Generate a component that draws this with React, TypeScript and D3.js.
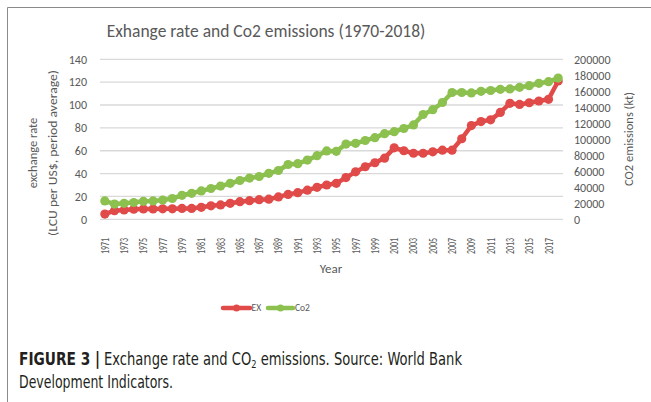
import React from 'react'
import * as d3 from 'd3'

const [W, H] = [651, 402]
const margin = { left: 100, right: 88, top: 59.3, bottom: 182.7 }

const years = d3.range(1971, 2019)
const exRate = [
  4.6, 7.5, 8.2, 8.8, 9.0, 9.0, 9.2, 9.2, 9.5, 9.5,
  10.5, 11.8, 12.6, 14.0, 15.4, 16.3, 17.2, 17.6, 19.6, 21.8,
  23.3, 25.5, 28.0, 30.0, 31.5, 36.5, 41.5, 46.0, 49.5, 53.5,
  62.5, 60.0, 57.8, 57.8, 59.0, 60.5, 60.5, 70.5, 82.0, 85.5,
  87.0, 93.5, 101.5, 100.5, 102.0, 103.5, 105.0, 121.0,
]
const co2 = [
  23000, 19000, 20000, 21000, 22500, 23000, 24000, 26000, 30000, 32500,
  35500, 38500, 41500, 45000, 48500, 51500, 53500, 57500, 61000, 68500,
  69500, 74000, 79500, 85500, 85000, 94000, 95000, 98500, 102000, 107000,
  109500, 113500, 118000, 131000, 137000, 146000, 158500, 158500, 158000, 160000,
  161000, 162500, 163000, 165000, 167000, 170000, 172000, 176500,
]
const leftTicks = d3.range(0, 141, 20)
const rightTicks = d3.range(0, 200001, 20000)

const RED = '#E04B4A'
const GREEN = '#8CC04F'
const TXT = '#595959'
const FONT = 'Carlito, Lato, sans-serif'

export default function App() {
  const x = d3.scalePoint<number>()
    .domain(years)
    .range([margin.left, W - margin.right])
    .padding(0.5)
  const yL = d3.scaleLinear().domain([0, 140]).range([H - margin.bottom, margin.top])
  const yR = d3.scaleLinear().domain([0, 200000]).range([H - margin.bottom, margin.top])

  const exLine = d3.line<number>().x((_, i) => x(years[i])!).y(d => yL(d))
  const co2Line = d3.line<number>().x((_, i) => x(years[i])!).y(d => yR(d))

  return (
    <svg width={W} height={H} style={{ position: 'absolute', left: 0, top: 0 }} fontFamily={FONT}>
      <rect width={W} height={H} fill="white" />
      {/* frame */}
      <path d={`M7.5,${H} V7.5 H${W}`} fill="none" stroke="#8a8a8a" strokeWidth={1} />

      <text x={266} y={37} textAnchor="middle" fontSize={17.5} fill={TXT}>
        Exhange rate and Co2 emissions (1970-2018)
      </text>

      {/* gridlines */}
      {leftTicks.map(t => (
        <line key={t} x1={margin.left} x2={W - margin.right} y1={yL(t)} y2={yL(t)}
          stroke="#d9d9d9" strokeWidth={1.3} />
      ))}

      {leftTicks.map(t => (
        <text key={t} x={87} y={yL(t)} dy="0.35em" textAnchor="end" fontSize={12} fill={TXT}>{t}</text>
      ))}
      {rightTicks.map(t => (
        <text key={t} x={574} y={yR(t)} dy="0.35em" textAnchor="start" fontSize={12} fill={TXT}>{t}</text>
      ))}

      {years.filter((_, i) => i % 2 === 0).map(yr => (
        <text key={yr} transform={`translate(${x(yr)! + 4},238) rotate(-90)`} textAnchor="end"
          fontSize={11.5} fill={TXT} textLength={16} lengthAdjust="spacingAndGlyphs">{yr}</text>
      ))}

      <text x={331} y={273} textAnchor="middle" fontSize={13} fill={TXT}>Year</text>

      <text transform="translate(37,153) rotate(-90)" textAnchor="middle" fontSize={12.5} fill={TXT}>
        exchange rate
      </text>
      <text transform="translate(57,153) rotate(-90)" textAnchor="middle" fontSize={12.5} fill={TXT}
        textLength={166} lengthAdjust="spacingAndGlyphs">
        (LCU per US$, period average)
      </text>
      <text transform="translate(633,139) rotate(-90)" textAnchor="middle" fontSize={12.5} fill={TXT}>
        CO2 emissions (kt)
      </text>

      {/* series */}
      <path d={exLine(exRate)!} fill="none" stroke={RED} strokeWidth={4.5} strokeLinejoin="round" />
      {exRate.map((d, i) => (
        <circle key={i} cx={x(years[i])} cy={yL(d)} r={4.6} fill={RED} />
      ))}
      <path d={co2Line(co2)!} fill="none" stroke={GREEN} strokeWidth={4.5} strokeLinejoin="round" />
      {co2.map((d, i) => (
        <circle key={i} cx={x(years[i])} cy={yR(d)} r={4.6} fill={GREEN} />
      ))}

      {/* legend */}
      <g fontSize={9.5} fill={TXT}>
        <line x1={223} x2={250} y1={308} y2={308} stroke={RED} strokeWidth={4.5} strokeLinecap="round" />
        <circle cx={236.5} cy={308} r={3.5} fill={RED} />
        <text x={251.5} y={308} dy="0.35em">EX</text>
        <line x1={268} x2={293} y1={308} y2={308} stroke={GREEN} strokeWidth={4.5} strokeLinecap="round" />
        <circle cx={280.5} cy={308} r={3.5} fill={GREEN} />
        <text x={295} y={308} dy="0.35em">Co2</text>
      </g>

      {/* caption */}
      <g fontFamily="'Liberation Sans Narrow', 'DejaVu Sans Condensed', 'Liberation Sans', sans-serif" fontSize={17.5} fill="#231f20">
        <text x={19} y={365} fontWeight="bold" textLength={81} lengthAdjust="spacingAndGlyphs">FIGURE 3 |</text>
        <text x={104} y={365} textLength={358} lengthAdjust="spacingAndGlyphs">
          Exchange rate and CO<tspan fontSize={11} baselineShift="-30%">2</tspan> emissions. Source: World Bank
        </text>
        <text x={19} y={388} textLength={154} lengthAdjust="spacingAndGlyphs">Development Indicators.</text>
      </g>
    </svg>
  )
}
